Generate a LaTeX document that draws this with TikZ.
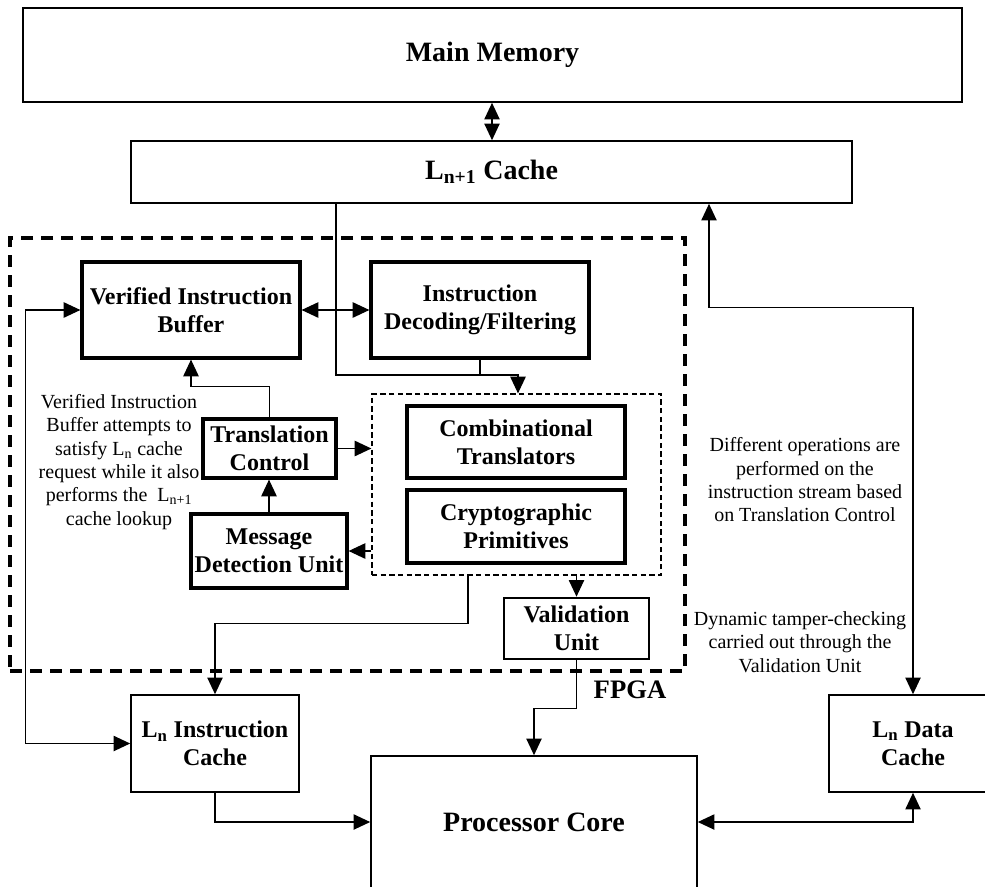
\documentclass[tikz,border=0pt]{standalone}
\usepackage{fontspec}
\setmainfont{Liberation Serif}
\usetikzlibrary{arrows.meta,calc}
\begin{document}
\begin{tikzpicture}[x=0.75pt,y=-0.75pt,
  >={Triangle[length=12.5pt,width=11.5pt]},
  conn/.style={line width=1pt},
  outerbox/.style={draw,line width=1.2pt,inner sep=0pt,align=center,font=\fontsize{21}{24}\selectfont\bfseries},
  innerbox/.style={draw,line width=2.4pt,inner sep=0pt,align=center,font=\fontsize{18}{21}\selectfont\bfseries},
  cachebox/.style={draw,line width=1.2pt,inner sep=0pt,align=center,font=\fontsize{18}{21}\selectfont\bfseries},
  fpgabox/.style={draw,line width=3pt,dash pattern=on 9pt off 6pt,inner sep=0pt},
  grpbox/.style={draw,line width=0.9pt,dash pattern=on 4pt off 2.5pt,inner sep=0pt},
  note/.style={align=center,font=\fontsize{15}{17.5}\selectfont},
  sz/.style 2 args={minimum width=#1*0.75pt,minimum height=#2*0.75pt}
]
\clip (0,0) rectangle (985,886);

% boxes
\node[outerbox,sz={939}{94}] (mm) at (492.5,55) {Main Memory};
\node[outerbox,sz={721}{62}] (lc) at (491.5,172) {L\textsubscript{n+1} Cache};
\node[fpgabox,sz={675}{433}] (fpga) at (347.5,454.5) {};
\node[innerbox,sz={218}{96}] (vib) at (191,310) {Verified Instruction\\Buffer};
\node[innerbox,sz={218}{96}] (idf) at (480,310) {Instruction\\Decoding/Filtering};
\node[grpbox,sz={289}{181}] (grp) at (516.5,484.5) {};
\node[innerbox,sz={218}{72}] (ct) at (516,442) {Combinational\\Translators};
\node[innerbox,sz={218}{73}] (cp) at (516,526.5) {Cryptographic\\Primitives};
\node[innerbox,sz={133}{59}] (tc) at (269.5,448.5) {Translation\\Control};
\node[innerbox,sz={156}{74}] (mdu) at (269,551) {Message\\Detection Unit};
\node[innerbox,line width=2pt,sz={145}{61}] (vu) at (576.5,628.5) {Validation\\Unit};
\node[cachebox,sz={168}{97}] (lic) at (215,743.5) {L\textsubscript{n} Instruction\\Cache};
\node[cachebox,sz={168}{97}] (ldc) at (913,743.5) {L\textsubscript{n} Data\\Cache};
\node[outerbox,sz={326}{132}] (pc) at (534,822) {Processor Core};
\node[font=\fontsize{20}{24}\selectfont\bfseries] (fl) at (630,690) {FPGA};

% notes
\node[note] (n1) at (119,462) {Verified Instruction\\Buffer attempts to\\satisfy L\textsubscript{n} cache\\request while it also\\performs the \ L\textsubscript{n+1}\\cache lookup};
\node[note] (n2) at (805,480) {Different operations are\\performed on the\\instruction stream based\\on Translation Control};
\node[note] (n3) at (800,642) {Dynamic tamper-checking\\carried out through the\\Validation Unit};

% helper coordinates
\coordinate (c336) at (336,0);
\coordinate (c518r) at (518,375);
\coordinate (c468) at (468,0);
\coordinate (c709) at (709,0);
\coordinate (c492) at (492,0);

% connectors
\draw[conn,<->] (mm.south -| c492) -- (lc.north -| c492);
\draw[conn,->] (lc.south -| c336) |- (c518r) -- (grp.north -| c518r);
\draw[conn] (idf.south) -- (idf.south |- c518r);
\draw[conn,<->] (vib.east) -- (idf.west);
\draw[conn,->] (tc.north) -- ++(0,-31) -| (vib.south);
\draw[conn,->] (mdu.north) -- (mdu.north |- tc.south);
\draw[conn,->] (tc.east) -- (tc.east -| grp.west);
\draw[conn,->] (grp.west |- mdu.east) -- (mdu.east);
\draw[conn,->] (grp.south -| vu.north) -- (vu.north);
\draw[conn,->] (grp.south -| c468) -- ++(0,48) -| (lic.north);
\draw[conn,<->] (vib.west) -- ++(-55,0) |- (lic.west);
\draw[conn,->] (lic.south) |- (pc.west);
\draw[conn,->] (vu.south) -- ++(0,48) -| (pc.north);
\draw[conn,<->] (pc.east) -| (ldc.south);
\draw[conn,<->] (lc.south -| c709) -- ++(0,104) -| (ldc.north);
\end{tikzpicture}
\end{document}
